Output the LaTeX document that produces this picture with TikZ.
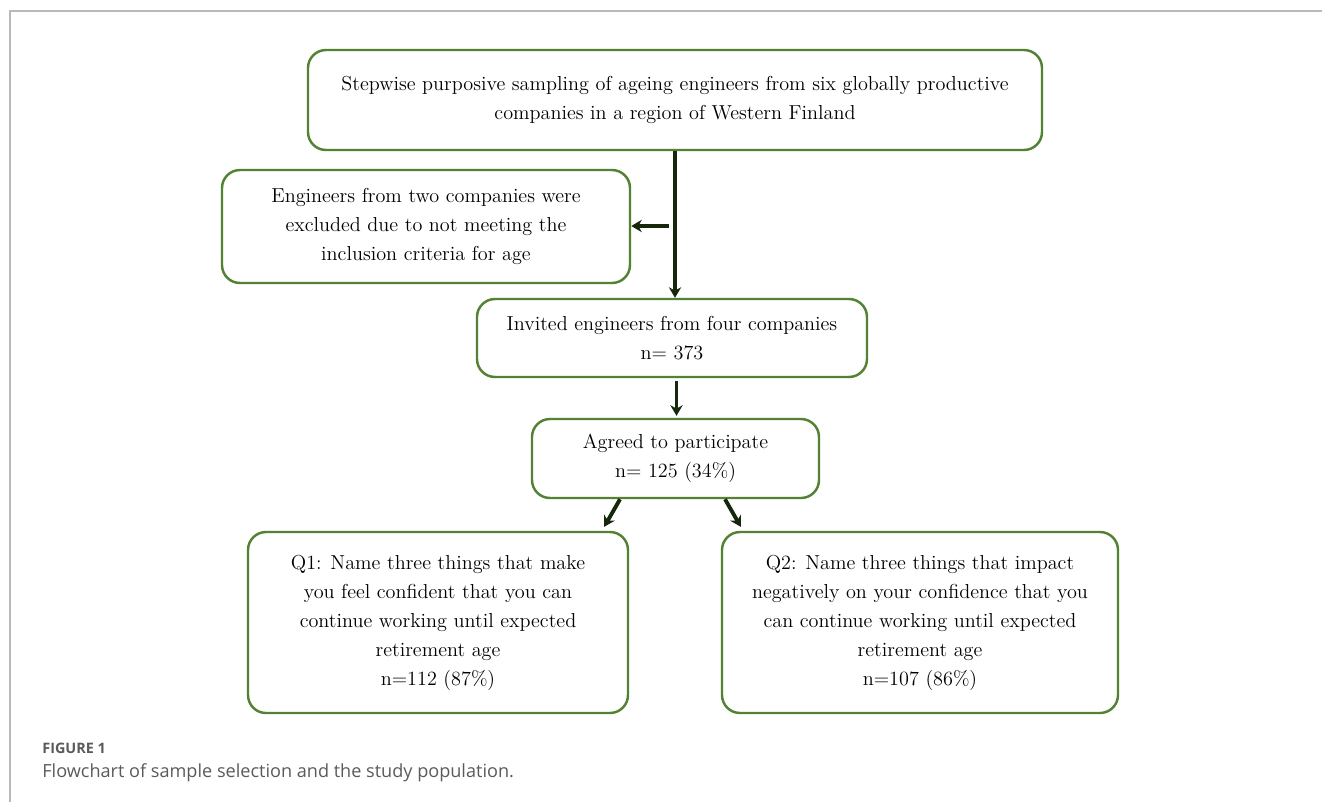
\documentclass[tikz,border=0pt]{standalone}
\usepackage{fontspec}
\newfontfamily\capfont{Open Sans}
\usetikzlibrary{arrows.meta}
\definecolor{boxgreen}{RGB}{84,130,53}
\definecolor{arrowdark}{RGB}{22,40,12}
\definecolor{capgray}{RGB}{90,90,90}
\begin{document}
\begin{tikzpicture}[
  box/.style={draw=boxgreen,line width=1.4pt,rounded corners=0.36cm,align=center,
    inner sep=0pt,font=\fontsize{11.5}{16.5}\selectfont},
  flow/.style={draw=arrowdark,line width=2.2pt,-{Stealth[length=6pt,width=7pt]}}]
\useasboundingbox (0,0) rectangle (26.44,-16.04);
%frame
\draw[gray!55,line width=0.9pt](0.2,-16.04)--(0.2,-0.22)--(26.44,-0.22);
%boxes
\node[box,minimum width=14.68cm,minimum height=2cm](top) at (13.5,-2.0)
  {Stepwise purposive sampling of ageing engineers from six globally productive\\
   companies in a region of Western Finland};
\node[box,minimum width=8.16cm,minimum height=2.26cm](excl) at (8.52,-4.53)
  {Engineers from two companies were\\excluded due to not meeting the\\inclusion criteria for age};
\node[box,minimum width=7.8cm,minimum height=1.56cm](inv) at (13.44,-6.76)
  {Invited engineers from four companies\\n= 373};
\node[box,minimum width=5.74cm,minimum height=1.58cm](agr) at (13.51,-9.17)
  {Agreed to participate\\n= 125 (34\%)};
\node[box,minimum width=7.6cm,minimum height=3.62cm](q1) at (8.76,-12.45)
  {Q1: Name three things that make\\you feel confident that you can\\continue working until expected\\retirement age\\n=112 (87\%)};
\node[box,minimum width=7.92cm,minimum height=3.62cm](q2) at (18.4,-12.45)
  {Q2: Name three things that impact\\negatively on your confidence that you\\can continue working until expected\\retirement age\\n=107 (86\%)};
%arrows
\draw[flow](top.south)--(top.south|-inv.north);
\coordinate(split) at (13.38,-4.52);
\draw[flow](split)--(split-|excl.east);
\draw[flow]([xshift=0.03cm,yshift=-0.06cm]top.south|-inv.south)--([xshift=0.03cm,yshift=0.04cm]top.south|-agr.north);
\draw[flow]([xshift=-1.11cm]agr.south)--([xshift=-0.5cm,yshift=0.08cm]q1.north east);
\draw[flow]([xshift=0.99cm]agr.south)--([xshift=0.4cm,yshift=0.08cm]q2.north west);
%caption
\node[anchor=west,inner sep=0pt,text=capgray,font=\capfont\bfseries\fontsize{8.2}{9}\selectfont](fig) at (0.84,-14.96){FIGURE 1};
\node[anchor=west,inner sep=0pt,text=capgray,font=\capfont\fontsize{10.3}{12}\selectfont](cap) at (0.84,-15.46)
  {Flowchart of sample selection and the study population.};
\end{tikzpicture}
\end{document}
